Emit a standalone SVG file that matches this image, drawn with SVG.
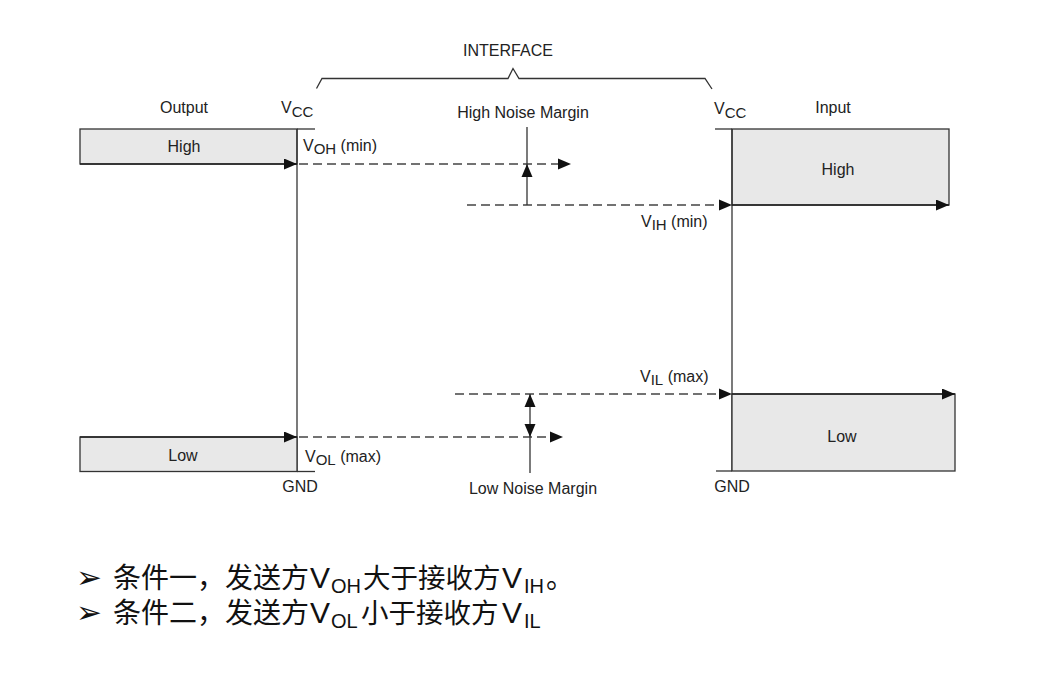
<svg xmlns="http://www.w3.org/2000/svg" width="1038" height="674" viewBox="0 0 1038 674">
<style>
.t{font-family:"Liberation Sans",Arial,sans-serif;font-size:16px;fill:#222}
.s{font-size:15px}
.box{fill:#e8e8e8;stroke:#333;stroke-width:1.3}
.ln{stroke:#333;stroke-width:1.3;fill:none}
.ar{stroke:#222;stroke-width:1.6;fill:none}
.dash{stroke:#444;stroke-width:1.3;stroke-dasharray:9 5;fill:none}
.cn{font-family:"Noto Sans CJK SC","Noto Sans",sans-serif;font-size:28px;fill:#111}
.lat{font-family:"Liberation Sans",Arial,sans-serif;font-size:30px}
.sub{font-family:"Liberation Sans",Arial,sans-serif;font-size:20px}
.bul{font-family:"DejaVu Sans",sans-serif;font-size:31px}
</style>
<defs>
<marker id="ah" markerUnits="userSpaceOnUse" markerWidth="13" markerHeight="11" refX="13" refY="5.5" orient="auto">
<path d="M0,0 L13,5.5 L0,11 z" fill="#111"/>
</marker>
</defs>
<rect width="1038" height="674" fill="#fff"/>

<g id="interface">
<path class="ln" d="M316.5,88.5 L322,78.5 L508,78.5 L513,68.5 L519,78.5 L705,78.5 L712,89"/>
<text class="t" x="508" y="56" text-anchor="middle">INTERFACE</text>
</g>

<g id="output-side">
<text class="t" x="184" y="113" text-anchor="middle">Output</text>
<text class="t" x="281" y="113">V<tspan class="s" dy="4">CC</tspan></text>
<rect id="out-high" class="box" x="80" y="129" width="217" height="35"/>
<line class="ln" x1="297" y1="129" x2="315" y2="129"/>
<text class="t" x="184" y="152" text-anchor="middle">High</text>
<text class="t" x="303" y="151">V<tspan class="s" dy="3">OH</tspan><tspan dy="-3"> (min)</tspan></text>
<line class="ln" x1="297" y1="129" x2="297" y2="471.5"/>
<rect id="out-low" class="box" x="80" y="437" width="217" height="34.5"/>
<line class="ln" x1="297" y1="471.5" x2="315" y2="471.5"/>
<text class="t" x="183" y="461" text-anchor="middle">Low</text>
<text class="t" x="305" y="462">V<tspan class="s" dy="3">OL</tspan><tspan dy="-3"> (max)</tspan></text>
<text class="t" x="300" y="492" text-anchor="middle">GND</text>
</g>

<g id="input-side">
<text class="t" x="833" y="113" text-anchor="middle">Input</text>
<text class="t" x="714" y="114">V<tspan class="s" dy="4">CC</tspan></text>
<rect id="in-high" class="box" x="732" y="129" width="217" height="76"/>
<line class="ln" x1="715" y1="129" x2="732" y2="129"/>
<text class="t" x="838" y="175" text-anchor="middle">High</text>
<text class="t" x="641" y="227">V<tspan class="s" dy="3">IH</tspan><tspan dy="-3"> (min)</tspan></text>
<line class="ln" x1="732" y1="129" x2="732" y2="471"/>
<rect id="in-low" class="box" x="732" y="394" width="223" height="77"/>
<line class="ln" x1="716" y1="471" x2="732" y2="471"/>
<text class="t" x="842" y="442" text-anchor="middle">Low</text>
<text class="t" x="640" y="382">V<tspan class="s" dy="3">IL</tspan><tspan dy="-3"> (max)</tspan></text>
<text class="t" x="732" y="492" text-anchor="middle">GND</text>
</g>

<g id="high-noise-margin">
<text class="t" x="523" y="118" text-anchor="middle">High Noise Margin</text>
</g>
<g id="low-noise-margin">
<text class="t" x="533" y="494" text-anchor="middle">Low Noise Margin</text>
</g>

<g id="connectors">
<line class="ar" x1="80" y1="164" x2="297" y2="164" marker-end="url(#ah)"/>
<line class="ar" x1="80" y1="437" x2="297" y2="437" marker-end="url(#ah)"/>
<line class="ar" x1="732" y1="205" x2="949" y2="205" marker-end="url(#ah)"/>
<line class="ar" x1="732" y1="394" x2="955" y2="394" marker-end="url(#ah)"/>
<line class="dash" x1="299" y1="164" x2="560" y2="164"/>
<path d="M558,158.5 L571,164 L558,169.5 z" fill="#111"/>
<line class="dash" x1="467" y1="205" x2="722" y2="205"/>
<path d="M719,199.5 L732,205 L719,210.5 z" fill="#111"/>
<line class="dash" x1="299" y1="437" x2="552" y2="437"/>
<path d="M550,431.5 L563,437 L550,442.5 z" fill="#111"/>
<line class="dash" x1="455" y1="394" x2="722" y2="394"/>
<path d="M719,388.5 L732,394 L719,399.5 z" fill="#111"/>
<line class="ln" x1="527" y1="127" x2="527" y2="205"/>
<path d="M521.5,177 L527,164 L532.5,177 z" fill="#111"/>
<line class="ln" x1="530" y1="394" x2="530" y2="473"/>
<path d="M524.5,407 L530,394 L535.5,407 z" fill="#111"/>
<path d="M524.5,424 L530,437 L535.5,424 z" fill="#111"/>
</g>

<g id="notes">
<text class="cn"><tspan class="bul" x="76" y="588">➢</tspan><tspan x="113" y="588">条件一，发送方</tspan><tspan class="lat" x="310" y="588">V</tspan><tspan class="sub" x="331" y="593">OH</tspan><tspan x="363" y="588" font-size="27.5">大于接收方</tspan><tspan class="lat" x="502" y="588">V</tspan><tspan class="sub" x="524" y="593">IH</tspan><tspan x="546" y="588">。</tspan><tspan class="bul" x="76" y="623">➢</tspan><tspan x="113" y="623">条件二，发送方</tspan><tspan class="lat" x="310" y="623">V</tspan><tspan class="sub" x="331" y="628">OL</tspan><tspan x="361" y="623" font-size="27.5">小于接收方</tspan><tspan class="lat" x="502" y="623">V</tspan><tspan class="sub" x="524" y="628">IL</tspan></text>
</g>
</svg>
